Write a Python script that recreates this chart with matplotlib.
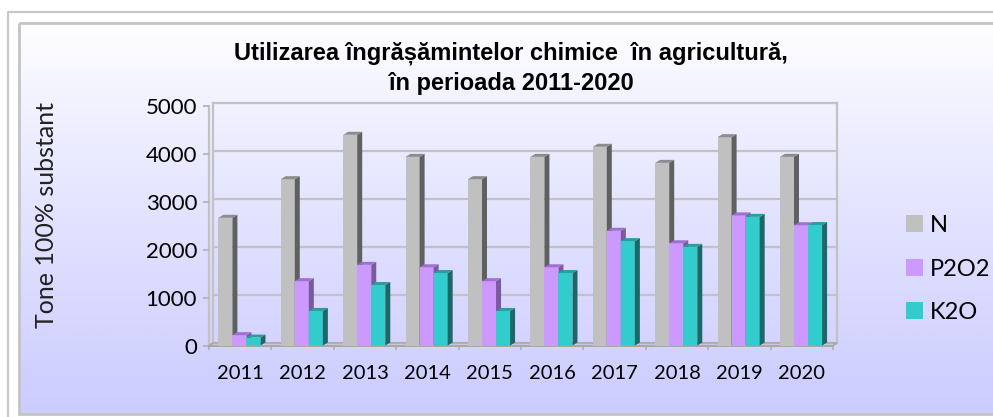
import numpy as np
import matplotlib
matplotlib.use("Agg")
from matplotlib import pyplot as plt
from matplotlib.patches import Polygon, Rectangle, Patch
from matplotlib.colors import LinearSegmentedColormap
from matplotlib.transforms import IdentityTransform, offset_copy

years = ["2011", "2012", "2013", "2014", "2015", "2016", "2017", "2018", "2019", "2020"]
n_vals = [2660, 3465, 4390, 3930, 3465, 3930, 4140, 3805, 4340, 3930]
p_vals = [215, 1340, 1680, 1630, 1340, 1630, 2390, 2130, 2710, 2505]
k_vals = [165, 720, 1260, 1510, 720, 1510, 2175, 2055, 2680, 2510]
series_names = ["N", "P2O2", "K2O"]

title = "Utilizarea îngrășămintelor chimice  în agricultură,\nîn perioada 2011-2020"
ylabel = "Tone 100% substant"

# front / side / top colours per series
colors = [("#c0c0c0", "#606060", "#8c8c8c"),
          ("#cc99ff", "#7a5a9e", "#9e70d0"),
          ("#33cccc", "#1c6868", "#2a9e9e")]

W, H = 993, 417
fig = plt.figure(figsize=(W / 100, H / 100), dpi=100)

# background: frames + gradient box
bg = fig.add_axes([0, 0, 1, 1])
bg.set_xlim(0, W)
bg.set_ylim(H, 0)
bg.axis("off")
cmap = LinearSegmentedColormap.from_list("bgrad", ["#ffffff", "#ccccff"])
grad = np.linspace(0, 1, 256).reshape(-1, 1) ** 0.85
bg.imshow(grad, cmap=cmap, extent=(19, W + 5, 414, 23), aspect="auto", zorder=0)
bg.add_patch(Rectangle((19, 23), W, 391, fill=False, edgecolor="#c4c4c4", lw=2, zorder=1))
bg.plot([8, 8, W + 5], [H + 5, 12, 12], color="#c8c8c8", lw=1.6, zorder=1)
bg.set_xlim(0, W)
bg.set_ylim(H, 0)

# plot area (front plane)
ax = fig.add_axes([209 / W, (H - 345.5) / H, 624 / W, 240 / H])
ax.set_xlim(0, 10)
ax.set_ylim(0, 5000)
ax.patch.set_visible(False)
for s in ax.spines.values():
    s.set_visible(False)

DX, DY = 4, 2.5  # back wall offset, pixels
back = offset_copy(ax.transData, fig=fig, x=DX, y=DY, units="dots")
grid_c = "#c2c2c2"
for v in range(0, 5001, 1000):
    ax.plot([0, 10], [v, v], color=grid_c, lw=1.6, transform=back, zorder=1, clip_on=False)
ax.plot([10, 10], [0, 5000], color=grid_c, lw=1.6, transform=back, zorder=1, clip_on=False)
ax.plot([0, 0], [0, 5000], color=grid_c, lw=1.6, transform=back, zorder=1, clip_on=False)
ax.plot([0, 0], [0, 5000], color=grid_c, lw=1.6, zorder=1, clip_on=False)


def px(x, y, dx=0, dy=0):
    p = ax.transData.transform((x, y))
    return (p[0] + dx, p[1] + dy)


# floor
floor = [px(0, 0), px(10, 0), px(10, 0, DX, DY), px(0, 0, DX, DY)]
ax.add_patch(Polygon(floor, closed=True, transform=IdentityTransform(), facecolor="#d8d8e8",
                     edgecolor="#a8a8a8", lw=1.2, zorder=1.5, clip_on=False))
ax.plot([0, 10], [0, 0], color="#a8a8a8", lw=1.4, zorder=1.6, clip_on=False)

# 3d-looking bars
BW = 0.225
OFF = 0.15
BDX, BDY = 5, 3
for i in range(len(years)):
    for j, vals in enumerate([n_vals, p_vals, k_vals]):
        x0 = i + OFF + j * BW
        h = vals[i]
        fc, sc, tc = colors[j]
        z = 3 + j
        ax.bar(x0, h, width=BW, align="edge", color=fc, lw=0, zorder=z)
        side = [px(x0 + BW, 0), px(x0 + BW, h), px(x0 + BW, h, BDX, BDY), px(x0 + BW, 0, BDX, BDY)]
        top = [px(x0, h), px(x0 + BW, h), px(x0 + BW, h, BDX, BDY), px(x0, h, BDX, BDY)]
        ax.add_patch(Polygon(side, closed=True, transform=IdentityTransform(), facecolor=sc,
                             lw=0, zorder=z, clip_on=False))
        ax.add_patch(Polygon(top, closed=True, transform=IdentityTransform(), facecolor=tc,
                             lw=0, zorder=z, clip_on=False))

# ticks
ax.set_yticks(range(0, 5001, 1000))
ax.tick_params(axis="y", length=4.3, width=1.2, color="#b0b0b0", pad=4.3, labelsize=16)
ax.set_xticks(range(0, 11))
ax.set_xticklabels([])
ax.set_xticks(np.arange(10) + 0.5, minor=True)
ax.set_xticklabels(years, minor=True)
ax.tick_params(axis="x", which="major", length=3, width=1.2, color="#b0b0b0")
ax.tick_params(axis="x", which="minor", length=0, pad=14, labelsize=14.5)
for lab in ax.get_yticklabels() + ax.get_xticklabels(minor=True):
    lab.set_family("Lato")

fig.text(511 / W, 1 - 68 / H, title, ha="center", va="center", fontsize=17,
         fontweight="bold", family="Liberation Sans", linespacing=1.4)
fig.text(47 / W, 1 - 215 / H, ylabel, rotation=90, ha="center", va="center",
         fontsize=18, family="Lato", color="#222222")

handles = [Patch(facecolor=c[0], edgecolor="none") for c in colors]
leg = fig.legend(handles, series_names, loc="center left", bbox_to_anchor=(906 / W, 1 - 269 / H),
                 frameon=False, prop={"family": "Lato", "size": 17}, handlelength=0.72,
                 handleheight=0.72, handletextpad=0.3, labelspacing=0.95, borderpad=0,
                 borderaxespad=0)

fig.savefig("out.png", dpi=100)
